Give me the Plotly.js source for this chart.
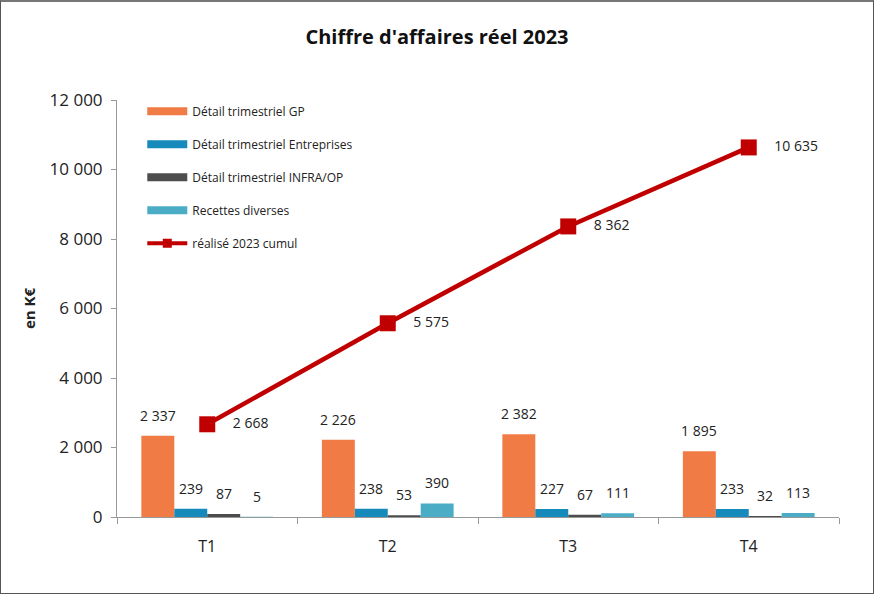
<!DOCTYPE html>
<html><head><meta charset="utf-8">
<script src="https://cdn.plot.ly/plotly-3.0.1.min.js"></script>
<style>
html,body{margin:0;padding:0;background:#fff;}
#wrap{width:874px;height:594px;box-sizing:border-box;border:1px solid #555;border-top:2px solid #777;}
#chart{width:872px;height:591px;}
</style></head>
<body><div id="wrap"><div id="chart"></div></div>
<script>
const categories = ['T1','T2','T3','T4'];
const gp = [2337, 2226, 2382, 1895];
const entreprises = [239, 238, 227, 233];
const infra = [87, 53, 67, 32];
const recettes = [5, 390, 111, 113];
const cumul = [2668, 5575, 8362, 10635];
const seriesNames = ['Détail trimestriel GP','Détail trimestriel Entreprises','Détail trimestriel INFRA/OP','Recettes diverses','réalisé 2023 cumul'];
const colors = ['#F07B45','#168ABA','#4D4D4D','#4BACC6','#C00000'];

const fontFam = '"Open Sans", "Noto Sans", sans-serif';
const barSeries = [gp, entreprises, infra, recettes];
const W = 872, H = 591;
const margin = {l:116, r:34, t:98, b:76};
const bargap = 0.27;
const catPx = (W - margin.l - margin.r) / categories.length;
const barPx = catPx * (1 - bargap) / barSeries.length;

const fmt = v => String(v).replace(/\B(?=(\d{3})+(?!\d))/g, ' ');

const traces = [];
const annotations = [];
barSeries.forEach((vals, i) => {
  traces.push({
    type:'bar', x:categories, y:vals, name:seriesNames[i],
    marker:{color:colors[i]}, showlegend:false, hoverinfo:'skip'
  });
  vals.forEach((v, j) => {
    annotations.push({
      x:categories[j], y:v, xref:'x', yref:'y', text:fmt(v), showarrow:false,
      xanchor:'center', yanchor:'bottom', yshift:9,
      xshift:(i - (barSeries.length - 1) / 2) * barPx,
      font:{family:fontFam, size:14, color:'#222'}
    });
  });
});
traces.push({
  type:'scatter', mode:'lines+markers+text', x:categories, y:cumul, name:seriesNames[4],
  line:{color:colors[4], width:4.5}, marker:{symbol:'square', size:16, color:colors[4]},
  texttemplate:'    %{y:,d}', textposition:'middle right', cliponaxis:false,
  textfont:{family:fontFam, size:14, color:'#222'},
  showlegend:false
});
// legend entries
for (let i = 0; i < 5; i++) {
  traces.push({
    type:'scatter', mode: i === 4 ? 'lines+markers' : 'lines', x:[null], y:[null],
    name:seriesNames[i], legendgroup:'g'+i, showlegend:true,
    line:{color:colors[i], width: i === 4 ? 4 : 8},
    marker:{symbol:'square', size:9, color:colors[i]},
    hoverinfo:'skip'
  });
}

const layout = {
  width:W, height:H,
  margin:margin,
  paper_bgcolor:'#fff', plot_bgcolor:'#fff',
  separators:', ',
  title:{text:"<b>Chiffre d'affaires réel 2023</b>", x:0.5, xanchor:'center', y:0.94, yanchor:'middle',
         font:{family:fontFam, size:20, color:'#111'}},
  barmode:'group', bargap:bargap, bargroupgap:0,
  font:{family:fontFam, color:'#222'},
  annotations:annotations,
  xaxis:{type:'category', showgrid:false, showline:true, linecolor:'#999', linewidth:1,
         ticks:'outside', tickson:'boundaries', ticklen:6, tickcolor:'#999', ticklabelstandoff:15,
         tickfont:{family:fontFam, size:16, color:'#222'}, zeroline:false},
  yaxis:{range:[0,12000], dtick:2000, tickformat:',d', showgrid:false, showline:true,
         linecolor:'#999', linewidth:1, ticks:'outside', ticklen:5, tickcolor:'#999', ticklabelstandoff:5,
         tickfont:{family:fontFam, size:17, color:'#222'}, zeroline:false,
         title:{text:'<b>en K€</b>', font:{family:fontFam, size:15, color:'#222'}, standoff:10}},
  legend:{x:0.035, y:1.008, xanchor:'left', yanchor:'top', bgcolor:'rgba(0,0,0,0)',
          traceorder:'grouped', tracegroupgap:14, itemwidth:40,
          font:{family:fontFam, size:12, color:'#222'}},
  showlegend:true
};
Plotly.newPlot('chart', traces, layout, {displayModeBar:false, staticPlot:true});
</script></body></html>
